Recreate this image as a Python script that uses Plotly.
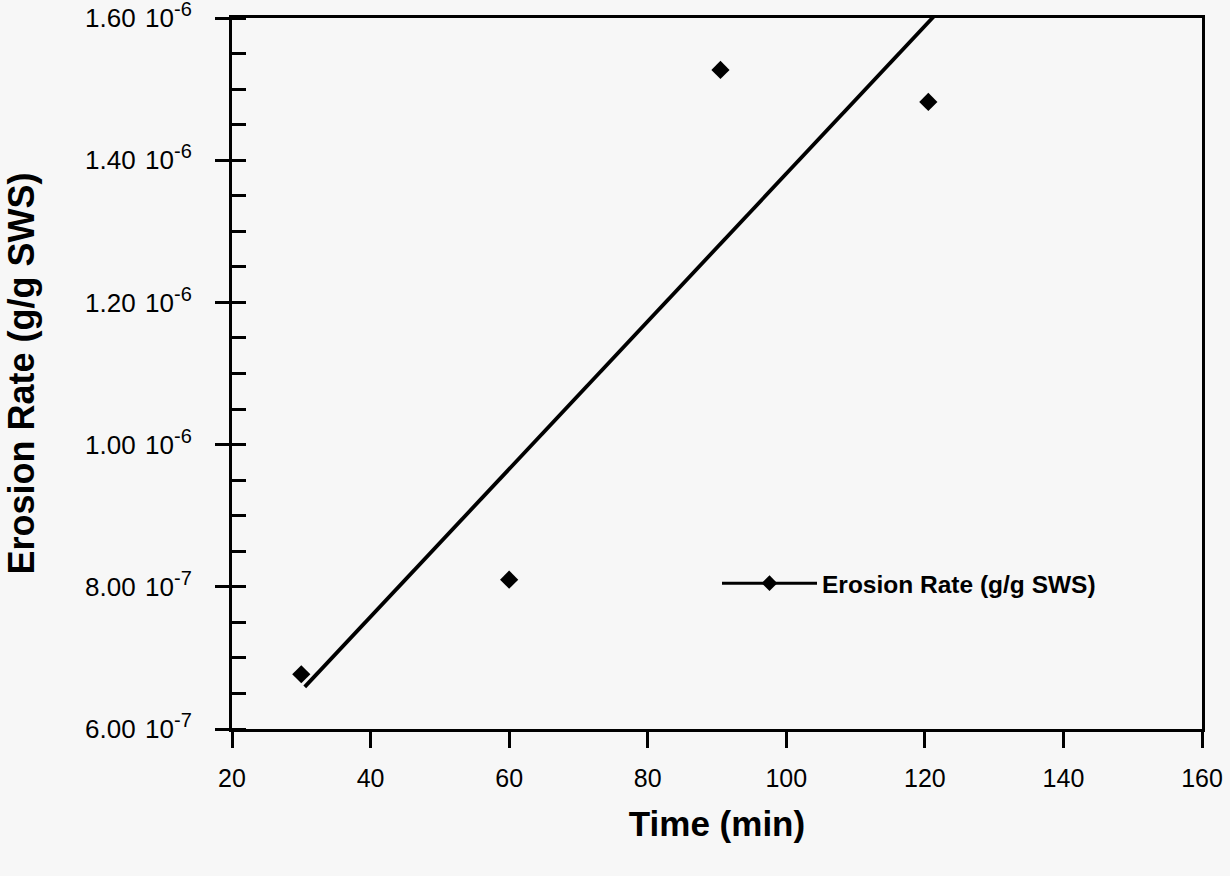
import numpy as np
import plotly.graph_objects as go

# data
time_min = [30, 60, 90.5, 120.5]
erosion_rate = [6.77e-7, 8.10e-7, 1.527e-6, 1.482e-6]

y_tickvals = [6e-7, 8e-7, 1e-6, 1.2e-6, 1.4e-6, 1.6e-6]
y_mantissa = ["6.00", "8.00", "1.00", "1.20", "1.40", "1.60"]
y_exponent = ["-7", "-7", "-6", "-6", "-6", "-6"]
x_tickvals = [20, 40, 60, 80, 100, 120, 140, 160]

y_ticktext = [f"{m}&nbsp;&#8202;10<sup><span style='font-size:20px'>{e}</span></sup>"
              for m, e in zip(y_mantissa, y_exponent)]

# linear fit through the points
slope, intercept = np.polyfit(time_min, erosion_rate, 1)
fit_x = np.array([time_min[0] + 0.5, 130])
fit_y = slope * fit_x + intercept

font = "Liberation Sans, Arial, Helvetica, sans-serif"
bg = "#f7f7f7"

fig = go.Figure()
fig.add_trace(go.Scatter(x=fit_x, y=fit_y, mode="lines",
                         line=dict(color="black", width=3.8), showlegend=False))
fig.add_trace(go.Scatter(x=time_min, y=erosion_rate, mode="markers",
                         marker=dict(symbol="diamond", size=14, color="black"),
                         showlegend=False))
# legend entry (line + marker)
fig.add_trace(go.Scatter(x=[None], y=[None], mode="lines+markers",
                         name="<b>Erosion Rate (g/g SWS)</b>",
                         line=dict(color="black", width=3),
                         marker=dict(symbol="diamond", size=12, color="black")))

fig.update_layout(
    width=1230, height=876,
    paper_bgcolor=bg, plot_bgcolor=bg,
    margin=dict(l=232, r=28, t=18, b=147),
    font=dict(family=font, color="black", size=24),
    legend=dict(x=0.5, y=0.205, xanchor="left", yanchor="middle",
                bgcolor="rgba(0,0,0,0)", itemwidth=95,
                font=dict(size=24.5, family=font)),
    xaxis=dict(range=[20, 160], tickvals=x_tickvals, automargin=False,
               showline=True, linecolor="black", linewidth=3, mirror=True,
               ticks="outside", ticklen=16, tickwidth=3, tickcolor="black",
               ticklabelstandoff=9, showgrid=False, zeroline=False,
               ticklabeloverflow="allow", tickfont=dict(size=25),
               title=dict(text="<b>Time (min)</b>", font=dict(size=35), standoff=21)),
    yaxis=dict(range=[6e-7, 1.6e-6], tickvals=y_tickvals, ticktext=y_ticktext,
               automargin=False,
               showline=True, linecolor="black", linewidth=3, mirror=True,
               ticks="outside", ticklen=14, tickwidth=3, tickcolor="black",
               ticklabelstandoff=18, showgrid=False, zeroline=False,
               ticklabeloverflow="allow", tickfont=dict(size=26),
               minor=dict(dtick=5e-8, ticks="inside", ticklen=14, tickwidth=3,
                          tickcolor="black", showgrid=False),
               title=dict(text="<b>Erosion Rate (g/g SWS)</b>", font=dict(size=36), standoff=40)),
)

fig.write_html("out.html", config={"displayModeBar": False},
               post_script="document.body.style.margin='0';")
